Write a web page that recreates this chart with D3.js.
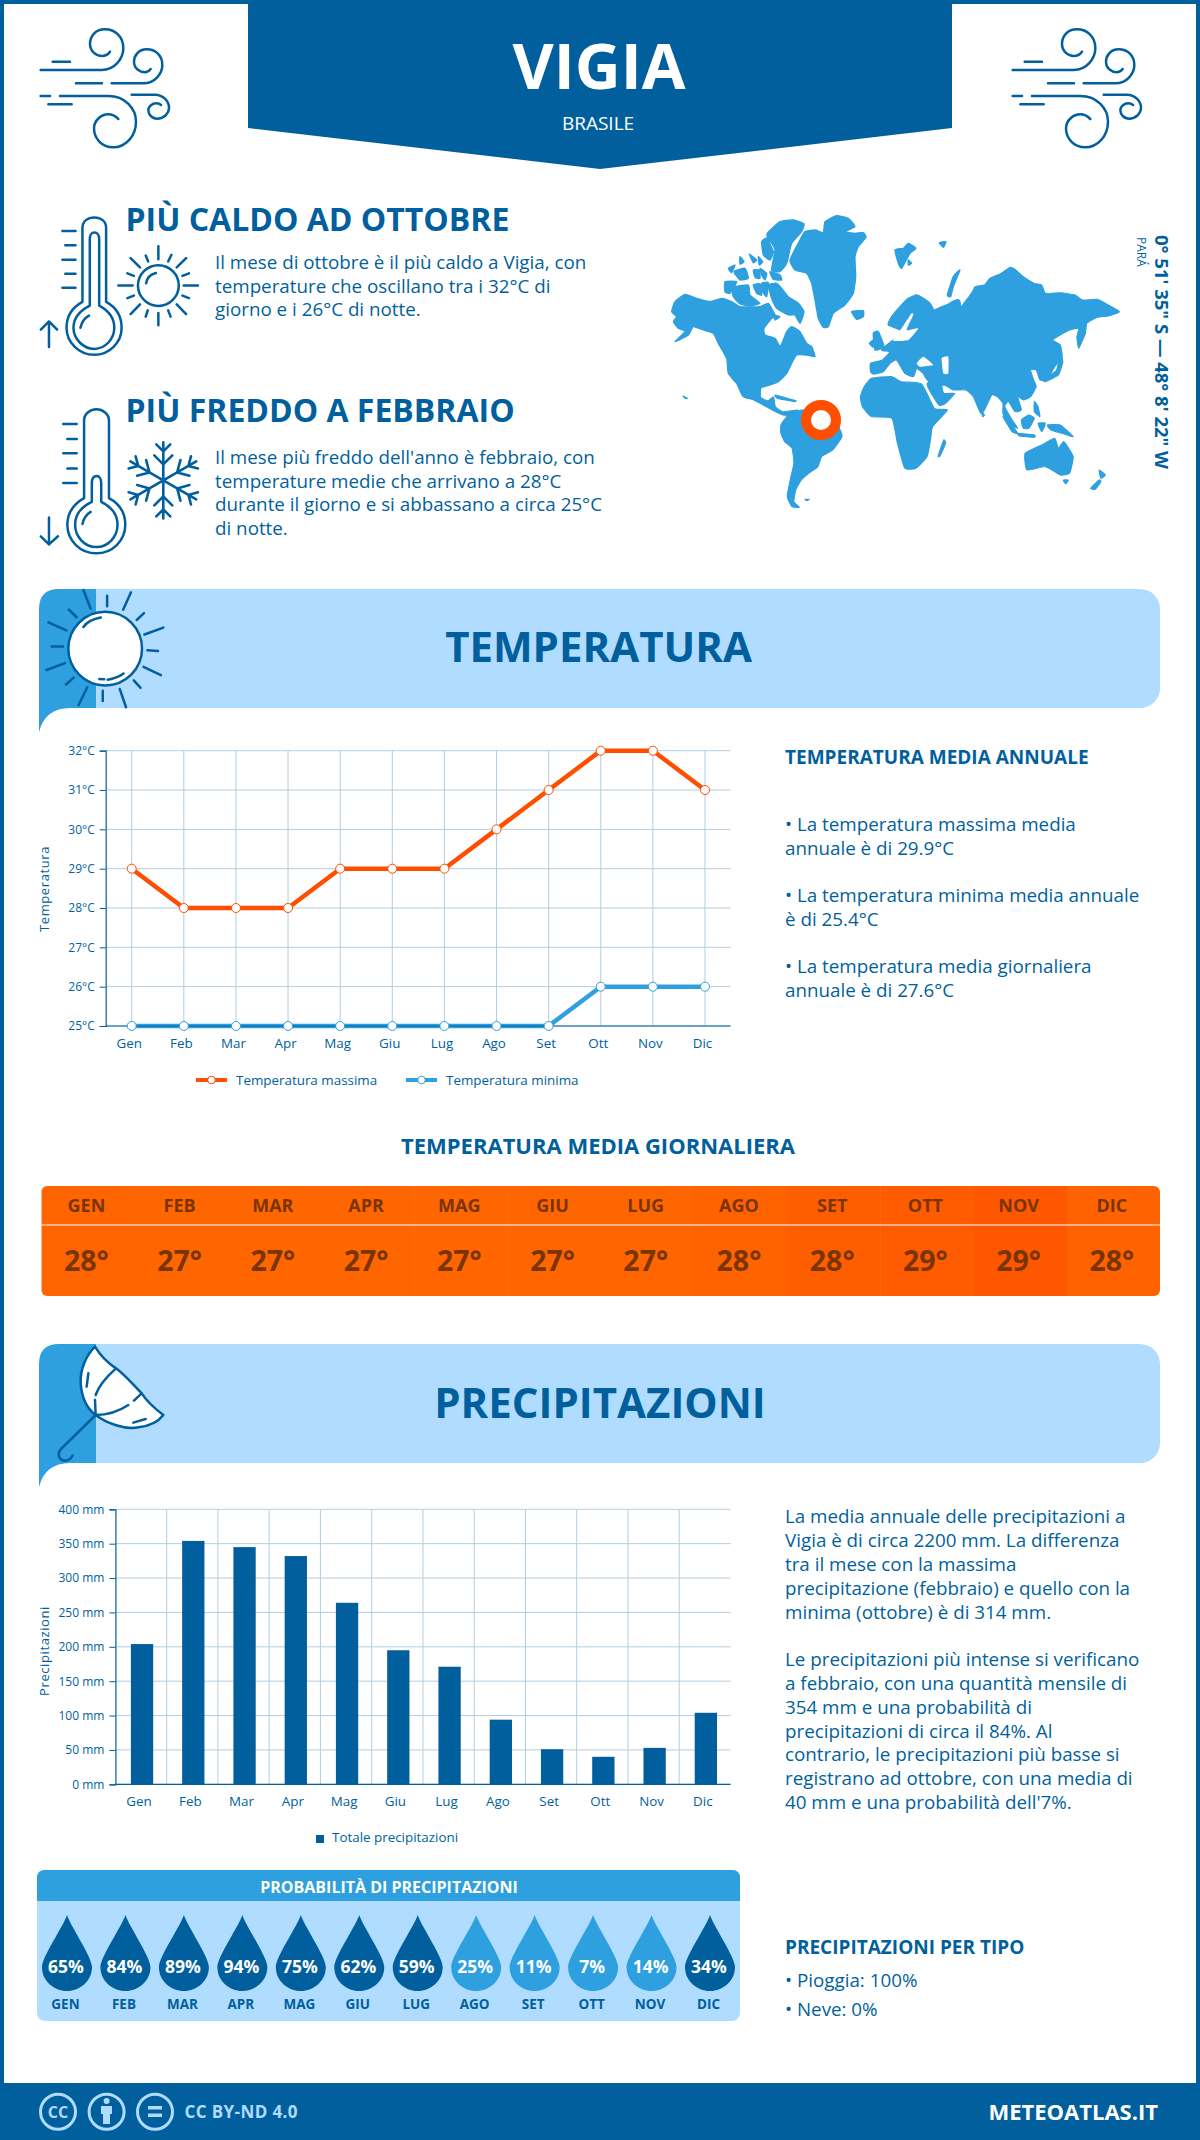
<!DOCTYPE html>
<html lang="it">
<head>
<meta charset="utf-8">
<title>Vigia - Brasile</title>
<script src="https://cdn.jsdelivr.net/npm/d3@7"></script>
<style>
  html, body { margin: 0; background: #fff; }
  svg { display: block; font-family: "Open Sans", sans-serif; }
  .icon * { vector-effect: non-scaling-stroke; stroke-linecap: round; stroke-linejoin: round; }
  .axis text { font-family: "Open Sans", sans-serif; fill: #015f9e; font-size: 12px; }
</style>
</head>
<body>
<svg id="chart" width="1200" height="2140"></svg>
<script>
// chart data
const months = ['Gen', 'Feb', 'Mar', 'Apr', 'Mag', 'Giu', 'Lug', 'Ago', 'Set', 'Ott', 'Nov', 'Dic'];
const monthsUpper = ['GEN', 'FEB', 'MAR', 'APR', 'MAG', 'GIU', 'LUG', 'AGO', 'SET', 'OTT', 'NOV', 'DIC'];
const tempMax = [29, 28, 28, 28, 29, 29, 29, 30, 31, 32, 32, 31];
const tempMin = [25, 25, 25, 25, 25, 25, 25, 25, 25, 26, 26, 26];
const tempMean = [28, 27, 27, 27, 27, 27, 27, 28, 28, 29, 29, 28];
const tempMeanColors = ['#ff6400', '#ff6600', '#ff6600', '#ff6600', '#ff6600', '#ff6600', '#ff6600', '#ff6300', '#ff5e00', '#ff5b00', '#ff5700', '#ff6200'];
const rain = [204, 354, 345, 332, 264, 195, 171, 94, 51, 40, 53, 104];
const rainProb = [65, 84, 89, 94, 75, 62, 59, 25, 11, 7, 14, 34];
const tempTicks = [25, 26, 27, 28, 29, 30, 31, 32];
const rainTicks = [0, 50, 100, 150, 200, 250, 300, 350, 400];

const hotLines = ['Il mese di ottobre è il più caldo a Vigia, con', 'temperature che oscillano tra i 32°C di', 'giorno e i 26°C di notte.'];
const coldLines = ["Il mese più freddo dell'anno è febbraio, con", 'temperature medie che arrivano a 28°C', 'durante il giorno e si abbassano a circa 25°C', 'di notte.'];
const tempNotes = ['• La temperatura massima media', 'annuale è di 29.9°C', '• La temperatura minima media annuale', 'è di 25.4°C', '• La temperatura media giornaliera', 'annuale è di 27.6°C'];
const rainNotes = ['La media annuale delle precipitazioni a', 'Vigia è di circa 2200 mm. La differenza', 'tra il mese con la massima', 'precipitazione (febbraio) e quello con la', 'minima (ottobre) è di 314 mm.', '', 'Le precipitazioni più intense si verificano', 'a febbraio, con una quantità mensile di', '354 mm e una probabilità di', 'precipitazioni di circa il 84%. Al', 'contrario, le precipitazioni più basse si', 'registrano ad ottobre, con una media di', "40 mm e una probabilità dell'7%."];
const rainTypes = ['• Pioggia: 100%', '• Neve: 0%'];

const DARK = '#015f9e', MID = '#2e9fdf', LIGHT = '#b0dcff', ORANGE = '#ff4e00', GRID = '#b2cde0';

const svg = d3.select('#chart');

function label(parent, x, y, txt, size, opts = {}) {
  return parent.append('text')
    .attr('x', x).attr('y', y)
    .attr('font-size', size)
    .attr('font-weight', opts.weight || 400)
    .attr('fill', opts.fill || DARK)
    .attr('text-anchor', opts.anchor || 'start')
    .text(txt);
}

// frame and header
svg.append('rect').attr('x', 2).attr('y', 2).attr('width', 1196).attr('height', 2136)
  .attr('fill', '#fff').attr('stroke', DARK).attr('stroke-width', 4);
svg.append('path').attr('d', 'M248,0V128L600,169L952,128V0Z').attr('fill', DARK);
label(svg, 599, 89, 'VIGIA', 63.5, { weight: 700, fill: '#fff', anchor: 'middle' });
label(svg, 598, 130, 'BRASILE', 19, { fill: '#fff', anchor: 'middle' });

// icons are traced in the pixels of the zoomed crops, so each group carries its own scale
function iconGroup(parent, ox, oy, sx, sy) {
  return parent.append('g').attr('class', 'icon')
    .attr('transform', `translate(${ox},${oy}) scale(${sx},${sy})`);
}
function stroke(g, d, width = 2.5, fill = 'none', color = DARK) {
  return g.append('path').attr('d', d).attr('fill', fill).attr('stroke', color).attr('stroke-width', width);
}

const windPath = [
  'M32,150H215C255,150 280,115 280,85C280,50 255,28 225,28C195,28 180,50 180,72C180,95 200,108 215,108C225,108 235,102 240,95',
  'M68,125H120M138,190H216M32,228H60M55,253H125',
  'M245,190H340C375,190 397,160 397,135C397,105 375,88 350,88C325,88 312,108 312,125C312,145 330,157 345,157C352,157 358,152 362,147',
  'M90,228H235C285,228 318,265 318,305C318,350 285,382 250,382C215,382 192,355 192,325C192,300 215,283 235,283C248,283 258,290 265,297',
  'M305,224H375C400,224 417,245 417,262C417,282 400,296 382,296C365,296 355,282 355,270C355,258 368,250 378,250C385,250 390,252 393,255'
];
[30, 1002].forEach(ox => {
  const g = iconGroup(svg, ox, 20, 1 / 3, 1 / 3);
  windPath.forEach(d => stroke(g, d));
});

// hot and cold blocks
const thermo = iconGroup(svg, 0, 0, 1 / 2.45, 1 / 2.7);
stroke(thermo, 'M202,815V615C202,597 215,587 231,587C247,587 260,597 260,615V815C285,830 298,855 298,885C298,925 268,958 231,958C194,958 163,925 163,885C163,855 177,830 202,815Z');
stroke(thermo, 'M220,825V645C220,635 225,628 231,628C238,628 243,635 243,645V825C265,838 280,858 280,885C280,915 258,942 231,942C204,942 180,915 180,885C180,858 197,838 220,825Z');
stroke(thermo, 'M197,885C200,870 208,858 218,852');
stroke(thermo, 'M153,624H185M160,662H185M153,701H185M160,739H185M153,777H185');
stroke(thermo, 'M120,937V868M100,890L120,868L140,890');
thermo.append('ellipse').attr('cx', 388).attr('cy', 771).attr('rx', 50).attr('ry', 55)
  .attr('fill', 'none').attr('stroke', DARK).attr('stroke-width', 2.5);
stroke(thermo, 'M388,665V700M388,845V878M290,771H325M450,771H485M320,697L343,722M456,697L433,722M320,848L343,822M456,848L433,822');
stroke(thermo, 'M357,690L363,706M420,688L412,706M312,738L328,745M463,738L447,745M312,805L328,798M463,805L447,798M357,855L362,838M418,855L412,838');
stroke(thermo, 'M358,765C360,750 370,740 382,737');

stroke(thermo, 'M206,1345V1135C206,1118 220,1105 236,1105C252,1105 267,1118 267,1135V1345C292,1360 307,1385 307,1417C307,1460 275,1494 236,1494C197,1494 165,1460 165,1417C165,1385 182,1360 206,1345Z');
stroke(thermo, 'M225,1355V1305C225,1292 230,1285 237,1285C243,1285 248,1292 248,1305V1355C272,1368 288,1390 288,1417C288,1450 264,1477 236,1477C208,1477 184,1450 184,1417C184,1390 200,1368 225,1355Z');
stroke(thermo, 'M202,1415C205,1400 213,1388 222,1382');
stroke(thermo, 'M155,1145H188M165,1185H188M155,1224H188M165,1265H188M155,1304H188');
stroke(thermo, 'M120,1470V1397M100,1448L120,1470L142,1448');

const flake = svg.append('g').attr('class', 'icon').attr('transform', 'translate(163.3,480.4)');
d3.range(6).forEach(i => {
  flake.append('path').attr('transform', `rotate(${i * 60})`)
    .attr('d', 'M0,0V-38M-7,-36L0,-29L7,-36M-9,-25L0,-16L9,-25')
    .attr('fill', 'none').attr('stroke', DARK).attr('stroke-width', 2.6);
});

label(svg, 125.5, 231, 'PIÙ CALDO AD OTTOBRE', 32, { weight: 700 });
label(svg, 125.5, 422, 'PIÙ FREDDO A FEBBRAIO', 32, { weight: 700 });
hotLines.forEach((t, i) => label(svg, 215, 269 + i * 23.6, t, 18.8));
coldLines.forEach((t, i) => label(svg, 215, 464 + i * 23.5, t, 18.8));

// world map, traced by hand from two crops
const mapNorth = [
  [[35,335],[45,305],[75,283],[110,295],[150,305],[185,295],[215,305],[240,320],[300,320],[325,310],[345,345],[335,355],[312,385],[315,405],[345,415],[360,440],[370,420],[380,395],[395,380],[420,395],[440,430],[455,440],[465,470],[440,465],[410,465],[395,490],[380,520],[355,545],[330,555],[300,565],[300,600],[250,590],[230,550],[205,520],[200,475],[175,430],[160,400],[130,390],[100,380],[85,405],[45,425],[75,395],[55,385],[40,365],[50,350]],
  [[325,255],[350,250],[365,265],[385,290],[415,310],[432,335],[420,370],[405,345],[385,345],[350,325],[335,295]],
  [[340,345],[360,350],[345,360]],
  [[218,262],[265,255],[270,285],[300,310],[270,318],[240,312],[220,290]],
  [[195,245],[230,245],[210,280],[195,275]],
  [[322,100],[360,65],[400,60],[432,72],[425,95],[395,130],[380,190],[360,215],[335,210],[345,150],[335,130],[325,120]],
  [[305,125],[320,115],[340,155],[330,180],[310,165]],
  [[330,215],[360,225],[365,240],[340,238]],
  [[222,215],[255,205],[265,235],[240,240]],
  [[205,205],[225,195],[215,218]],
  [[240,170],[252,185],[240,192]],
  [[268,162],[290,180],[280,188]],
  [[280,210],[298,210],[300,235],[285,232]],
  [[295,170],[308,185],[298,195]],
  [[300,205],[320,220],[315,240],[305,225]],
  [[280,255],[300,252],[305,285],[290,280]],
  [[305,250],[325,248],[320,290],[308,275]],
  [[390,180],[420,120],[435,95],[465,90],[490,98],[495,65],[530,47],[565,55],[585,80],[555,95],[585,100],[610,98],[618,112],[595,140],[585,170],[587,230],[580,280],[555,315],[520,340],[505,380],[490,382],[475,355],[465,300],[455,250],[440,220],[405,210]],
  [[575,335],[610,332],[610,350],[590,358]],
  [[705,150],[730,145],[745,130],[768,145],[750,160],[725,205],[715,190]],
  [[745,180],[755,190],[745,195]],
  [[838,128],[858,125],[850,142]],
  [[640,400],[655,395],[672,440],[645,450]],
  [[628,430],[642,420],[640,442]],
  [[862,285],[880,230],[900,210],[880,260],[872,290]],
  [[685,375],[695,350],[720,320],[745,295],[770,285],[790,295],[810,310],[820,330],[800,345],[790,345],[835,325],[860,315],[900,305],[900,540],[820,555],[795,530],[790,520],[770,505],[760,530],[735,520],[710,480],[690,490],[670,515],[640,522],[632,515],[632,490],[668,480],[690,455],[665,450],[700,420],[745,400]]
];
const mapSeas = [
  [[755,340],[725,385],[700,422],[745,420],[775,385],[740,390],[760,345]],
  [[770,490],[790,470],[820,495],[780,500]],
  [[845,475],[865,470],[865,520],[850,520]]
];
const mapSouth = [
  [[950,340],[960,320],[985,315],[1000,295],[1030,280],[1055,262],[1070,270],[1090,290],[1120,310],[1140,315],[1150,340],[1190,338],[1230,345],[1250,360],[1290,358],[1320,375],[1350,395],[1320,408],[1290,412],[1262,430],[1258,460],[1240,505],[1235,470],[1240,445],[1215,450],[1190,465],[1170,480],[1190,495],[1195,530],[1175,560],[1165,580],[1150,600],[1135,600],[1125,570],[1110,570],[1118,600],[1125,620],[1110,650],[1090,660],[1075,650],[1085,690],[1068,695],[1050,665],[1040,680],[1060,720],[1075,745],[1050,730],[1035,700],[1035,670],[1020,650],[1005,645],[985,690],[975,700],[955,650],[935,630],[900,630],[870,610],[875,640],[905,640],[880,670],[862,675],[830,612],[880,560],[900,420]],
  [[650,650],[660,620],[680,595],[735,590],[760,605],[815,612],[850,685],[885,690],[845,740],[840,775],[830,830],[800,865],[770,865],[750,790],[735,715],[680,710],[655,680]],
  [[860,828],[875,780],[880,790],[865,828]],
  [[1095,820],[1140,795],[1175,775],[1185,805],[1200,785],[1225,830],[1215,880],[1190,885],[1150,860],[1100,870]],
  [[300,590],[330,590],[380,615],[378,650],[400,662],[415,650],[420,680],[440,695],[480,690],[470,705],[440,705],[420,695],[395,680],[355,655],[330,625]],
  [[435,735],[455,705],[490,690],[540,695],[590,740],[600,770],[575,810],[545,830],[535,860],[510,880],[490,900],[475,930],[470,965],[485,982],[465,980],[452,950],[460,900],[470,850],[465,805],[445,785],[435,760]],
  [[420,645],[475,662],[470,665],[425,655]],
  [[1035,710],[1050,720],[1075,760],[1060,755]],
  [[1075,760],[1120,765],[1120,772],[1080,768]],
  [[1085,720],[1105,705],[1120,715],[1105,745],[1090,745]],
  [[1120,665],[1130,680],[1135,710],[1120,695]],
  [[1130,730],[1150,730],[1140,755]],
  [[1155,735],[1190,735],[1225,770],[1195,760],[1165,750]],
  [[1145,600],[1180,570],[1190,520],[1197,545],[1185,585],[1150,605]],
  [[1198,900],[1212,900],[1205,912]],
  [[1272,925],[1295,900],[1300,905],[1285,928]],
  [[1295,870],[1312,885],[1300,895]],
  [[978,695],[985,705],[980,710]],
  [[500,958],[512,958],[505,962]],
  [[170,648],[183,655],[176,655]]
];
const mapLine = d3.line().curve(d3.curveCardinalClosed.tension(0.55));
function mapLayer(shapes, transform, color, outline) {
  svg.append('g').attr('transform', transform)
    .selectAll('path').data(shapes).join('path').attr('d', mapLine)
    .attr('fill', color).attr('stroke', color).attr('stroke-width', outline).attr('stroke-linejoin', 'round');
}
const northFrame = 'translate(660,200) scale(0.3333)', southFrame = 'translate(620,180) scale(0.36995,0.3333)';
mapLayer(mapNorth, northFrame, MID, 4);
mapLayer(mapSouth.slice(0, 1), southFrame, MID, 3);
mapLayer(mapSeas, northFrame, '#fff', 0);
mapLayer(mapSouth.slice(1), southFrame, MID, 3);
svg.append('circle').attr('cx', 821).attr('cy', 420).attr('r', 15).attr('fill', '#fff')
  .attr('stroke', ORANGE).attr('stroke-width', 10);

// coordinates, rotated
const coords = svg.append('g').attr('transform', 'translate(1154.5,235) rotate(90)');
label(coords, 0, 0, '0° 51\' 35" S — 48° 8\' 22" W', 18.5, { weight: 700 });
const region = svg.append('g').attr('transform', 'translate(1137,237) rotate(90)');
label(region, 0, 0, 'PARÁ', 12);

// section banners
function banner(top, title, baseline, cx) {
  svg.append('rect').attr('x', 60).attr('y', top).attr('width', 1100).attr('height', 119)
    .attr('rx', 20).attr('fill', LIGHT);
  svg.append('path').attr('fill', MID)
    .attr('d', `M96,${top}H59Q39,${top} 39,${top + 20}V${top + 143}Q45,${top + 119} 70,${top + 119}H96Z`);
  label(svg, cx, baseline, title, 42, { weight: 700, anchor: 'middle' });
}
banner(589, 'TEMPERATURA', 662, 598.6);
banner(1344, 'PRECIPITAZIONI', 1418, 600);

// sun on the temperature banner
const sun = iconGroup(svg, 0, 570, 1 / 2.063, 1 / 2.9);
sun.append('ellipse').attr('cx', 217).attr('cy', 228).attr('rx', 76).attr('ry', 107)
  .attr('fill', '#fff').attr('stroke', DARK).attr('stroke-width', 2.5);
stroke(sun, 'M172,58L187,112M221,75V105M270,65L254,115M297,125L282,145M337,167L298,187M304,233L326,235M296,281L332,305M276,320L290,342M247,345L260,398M212,350V380M180,340L162,392M152,312L136,332M134,270L96,290M107,222H130M137,175L100,152M158,137L142,115');
stroke(sun, 'M172,165C180,150 192,142 208,138M222,318C235,315 245,310 255,300M205,316L215,317');

// umbrella on the precipitation banner
const umbrella = iconGroup(svg, 35, 1340, 1 / 3, 1 / 3);
stroke(umbrella, 'M180,20C155,45 135,85 137,130C140,170 155,205 182,225C215,250 270,270 310,262C345,258 370,245 385,225C365,210 340,190 320,160C295,135 270,105 243,85C220,70 195,45 180,20Z', 2.5, '#fff');
stroke(umbrella, 'M243,85C215,110 190,140 182,165M180,180L182,225C215,225 250,215 280,195M297,182L320,160M160,100L155,140M295,248L332,237');
stroke(umbrella, 'M182,225L80,325C65,340 70,360 90,362C100,362 108,355 113,347');

// temperature chart
const tx = d3.scalePoint().domain(months).range([131.7, 705]);
const ty = d3.scaleLinear().domain([25, 32]).range([1026, 750.7]);
const tempLeft = 105.7, chartRight = 730.5;
const tempChart = svg.append('g');
tempChart.selectAll('line.hgrid').data(tempTicks).join('line').attr('class', 'hgrid')
  .attr('x1', tempLeft).attr('x2', chartRight).attr('y1', ty).attr('y2', ty).attr('stroke', GRID).attr('stroke-width', 1);
tempChart.selectAll('line.vgrid').data(months).join('line').attr('class', 'vgrid')
  .attr('x1', tx).attr('x2', tx).attr('y1', 750.7).attr('y2', 1026).attr('stroke', GRID).attr('stroke-width', 1);

const tempLine = d3.line().x((d, i) => tx(months[i])).y(d => ty(d));
[[tempMin, MID], [tempMax, ORANGE]].forEach(([values, color]) => {
  tempChart.append('path').attr('d', tempLine(values)).attr('fill', 'none')
    .attr('stroke', color).attr('stroke-width', 4.5).attr('stroke-linejoin', 'round');
});

function styleAxis(g) {
  g.attr('class', 'axis');
  g.selectAll('path.domain').attr('stroke', DARK).attr('stroke-width', 1.2);
  g.selectAll('.tick line').attr('stroke', DARK).attr('stroke-width', 1);
}
tempChart.append('g').attr('transform', `translate(${tempLeft},0)`)
  .call(d3.axisLeft(ty).tickValues(tempTicks).tickSize(6).tickPadding(5).tickFormat(d => `${d}°C`))
  .call(styleAxis);
tempChart.append('g').attr('transform', 'translate(0,1026)')
  .call(d3.axisBottom(tx).tickSize(0).tickPadding(12))
  .call(styleAxis)
  .call(g => g.select('path.domain').attr('d', `M${tempLeft},0H${chartRight}`))
  .call(g => g.selectAll('.tick text').attr('dx', -3).style('font-size', '13.4px'));

[[tempMin, MID], [tempMax, ORANGE]].forEach(([values, color]) => {
  tempChart.append('g').selectAll('circle').data(values).join('circle')
    .attr('cx', (d, i) => tx(months[i])).attr('cy', d => ty(d)).attr('r', 4.5)
    .attr('fill', '#fff').attr('stroke', color).attr('stroke-width', 1);
});

function axisTitle(txt, cx, cy) {
  svg.append('text').attr('transform', `translate(${cx},${cy}) rotate(-90)`)
    .attr('text-anchor', 'middle').attr('font-size', 13).attr('letter-spacing', 0.6)
    .attr('fill', DARK).text(txt);
}
axisTitle('Temperatura', 49, 889);
axisTitle('Precipitazioni', 49, 1651);

// temperature legend
[[196, 'Temperatura massima', ORANGE, 236], [406, 'Temperatura minima', MID, 446]].forEach(([x, txt, color, tx0]) => {
  svg.append('line').attr('x1', x).attr('x2', x + 31).attr('y1', 1080).attr('y2', 1080)
    .attr('stroke', color).attr('stroke-width', 4);
  svg.append('circle').attr('cx', x + 15.5).attr('cy', 1080).attr('r', 3.8)
    .attr('fill', '#fff').attr('stroke', color);
  label(svg, tx0, 1084.5, txt, 13.4);
});

// right column, temperature
label(svg, 785, 764, 'TEMPERATURA MEDIA ANNUALE', 19, { weight: 700 });
[831, 855, 902, 926, 973, 997].forEach((y, i) => label(svg, 785, y, tempNotes[i], 18.8));

// daily mean strip
label(svg, 598, 1154, 'TEMPERATURA MEDIA GIORNALIERA', 22, { weight: 700, anchor: 'middle' });
const stripX = d3.scaleBand().domain(months).range([41.3, 1160]);
const strip = svg.append('g');
strip.append('clipPath').attr('id', 'strip-clip').append('rect')
  .attr('x', 41.3).attr('y', 1186).attr('width', 1118.7).attr('height', 110).attr('rx', 6);
const stripCells = strip.append('g').attr('clip-path', 'url(#strip-clip)');
stripCells.selectAll('rect').data(months).join('rect')
  .attr('x', d => stripX(d)).attr('y', 1186).attr('width', stripX.bandwidth() + 0.5).attr('height', 110)
  .attr('fill', (d, i) => tempMeanColors[i]);
strip.append('line').attr('x1', 41.3).attr('x2', 1160).attr('y1', 1225).attr('y2', 1225)
  .attr('stroke', '#fff').attr('stroke-width', 1.2);
months.forEach((m, i) => {
  const cx = stripX(m) + stripX.bandwidth() / 2 - 1.5;
  label(strip, cx, 1212, monthsUpper[i], 18, { weight: 700, fill: '#7a3400', anchor: 'middle' });
  label(strip, cx, 1271, `${tempMean[i]}°`, 28.5, { weight: 700, fill: '#7a3400', anchor: 'middle' });
});

// precipitation chart
const rainLeft = 115.4;
const rx = d3.scaleBand().domain(months).range([rainLeft, chartRight]).paddingInner(0.565).paddingOuter(0.2825);
const ry = d3.scaleLinear().domain([0, 400]).range([1784.3, 1509.3]);
const rainChart = svg.append('g');
rainChart.selectAll('line.hgrid').data(rainTicks).join('line').attr('class', 'hgrid')
  .attr('x1', rainLeft).attr('x2', chartRight).attr('y1', ry).attr('y2', ry).attr('stroke', GRID);
rainChart.selectAll('line.vgrid').data(months.slice(1)).join('line').attr('class', 'vgrid')
  .attr('x1', d => rx(d) - rx.step() * 0.2825).attr('x2', d => rx(d) - rx.step() * 0.2825)
  .attr('y1', 1509.3).attr('y2', 1784.3).attr('stroke', GRID);
rainChart.selectAll('rect').data(rain).join('rect')
  .attr('x', (d, i) => rx(months[i]) + 1).attr('width', rx.bandwidth())
  .attr('y', d => ry(d)).attr('height', d => ry(0) - ry(d)).attr('fill', DARK);
rainChart.append('g').attr('transform', `translate(${rainLeft},0)`)
  .call(d3.axisLeft(ry).tickValues(rainTicks).tickSize(6).tickPadding(5).tickFormat(d => `${d} mm`))
  .call(styleAxis);
rainChart.append('g').attr('transform', 'translate(0,1784.3)')
  .call(d3.axisBottom(rx).tickSize(0).tickPadding(12))
  .call(styleAxis)
  .call(g => g.select('path.domain').attr('d', `M${rainLeft},0H${chartRight}`))
  .call(g => g.selectAll('.tick text').attr('dx', -2).style('font-size', '13.4px'));
svg.append('rect').attr('x', 316).attr('y', 1835).attr('width', 8).attr('height', 8).attr('fill', DARK);
label(svg, 332, 1842, 'Totale precipitazioni', 13.4);

// right column, precipitation
rainNotes.forEach((t, i) => label(svg, 785, 1523.3 + i * 23.8, t, 18.8));
label(svg, 785, 1954, 'PRECIPITAZIONI PER TIPO', 19, { weight: 700 });
rainTypes.forEach((t, i) => label(svg, 785, 1987.3 + i * 28.7, t, 18.8));

// probability panel
svg.append('rect').attr('x', 37).attr('y', 1870).attr('width', 703).attr('height', 151).attr('rx', 8).attr('fill', LIGHT);
svg.append('path').attr('d', 'M37,1901V1878Q37,1870 45,1870H732Q740,1870 740,1878V1901Z').attr('fill', MID);
label(svg, 389, 1892.7, 'PROBABILITÀ DI PRECIPITAZIONI', 16, { weight: 700, fill: '#fff', anchor: 'middle' });
const dropX = d3.scalePoint().domain(months).range([67, 710]);
const dropColor = p => (p >= 30 ? DARK : MID);
const drops = svg.append('g').selectAll('g').data(rainProb).join('g')
  .attr('transform', (d, i) => `translate(${dropX(months[i])},1915)`);
drops.append('path').attr('d', 'M0,0C-4,12 -25,42 -25,52C-25,66 -13,76 0,76C13,76 25,66 25,52C25,42 4,12 0,0Z')
  .attr('fill', dropColor);
drops.append('text').attr('y', 58).attr('x', -1).attr('text-anchor', 'middle').attr('font-size', 17.5).attr('font-weight', 700)
  .attr('fill', '#fff').text(d => `${d}%`);
drops.append('text').attr('y', 94).attr('x', -1.5).attr('text-anchor', 'middle').attr('font-size', 13.5).attr('font-weight', 700)
  .attr('fill', DARK).text((d, i) => monthsUpper[i]);

// footer
svg.append('rect').attr('x', 0).attr('y', 2083).attr('width', 1200).attr('height', 57).attr('fill', DARK);
const ccGroup = svg.append('g').attr('fill', 'none').attr('stroke', LIGHT).attr('stroke-width', 3);
[58, 106.6, 155].forEach(cx => ccGroup.append('circle').attr('cx', cx).attr('cy', 2111.7).attr('r', 17.5));
label(svg, 58, 2117.5, 'CC', 16, { weight: 700, fill: LIGHT, anchor: 'middle' });
svg.append('circle').attr('cx', 106.6).attr('cy', 2101).attr('r', 3).attr('fill', LIGHT);
svg.append('path').attr('d', 'M101,2106H112V2114H110V2124H103V2114H101Z').attr('fill', LIGHT);
svg.append('path').attr('d', 'M148,2106H162V2109.5H148ZM148,2113.5H162V2117H148Z').attr('fill', LIGHT);
label(svg, 184.5, 2117.7, 'CC BY-ND 4.0', 17, { weight: 700, fill: LIGHT }).attr('letter-spacing', 0.4);
label(svg, 1158, 2120, 'METEOATLAS.IT', 22, { weight: 700, fill: '#fff', anchor: 'end' });
</script>
</body>
</html>
